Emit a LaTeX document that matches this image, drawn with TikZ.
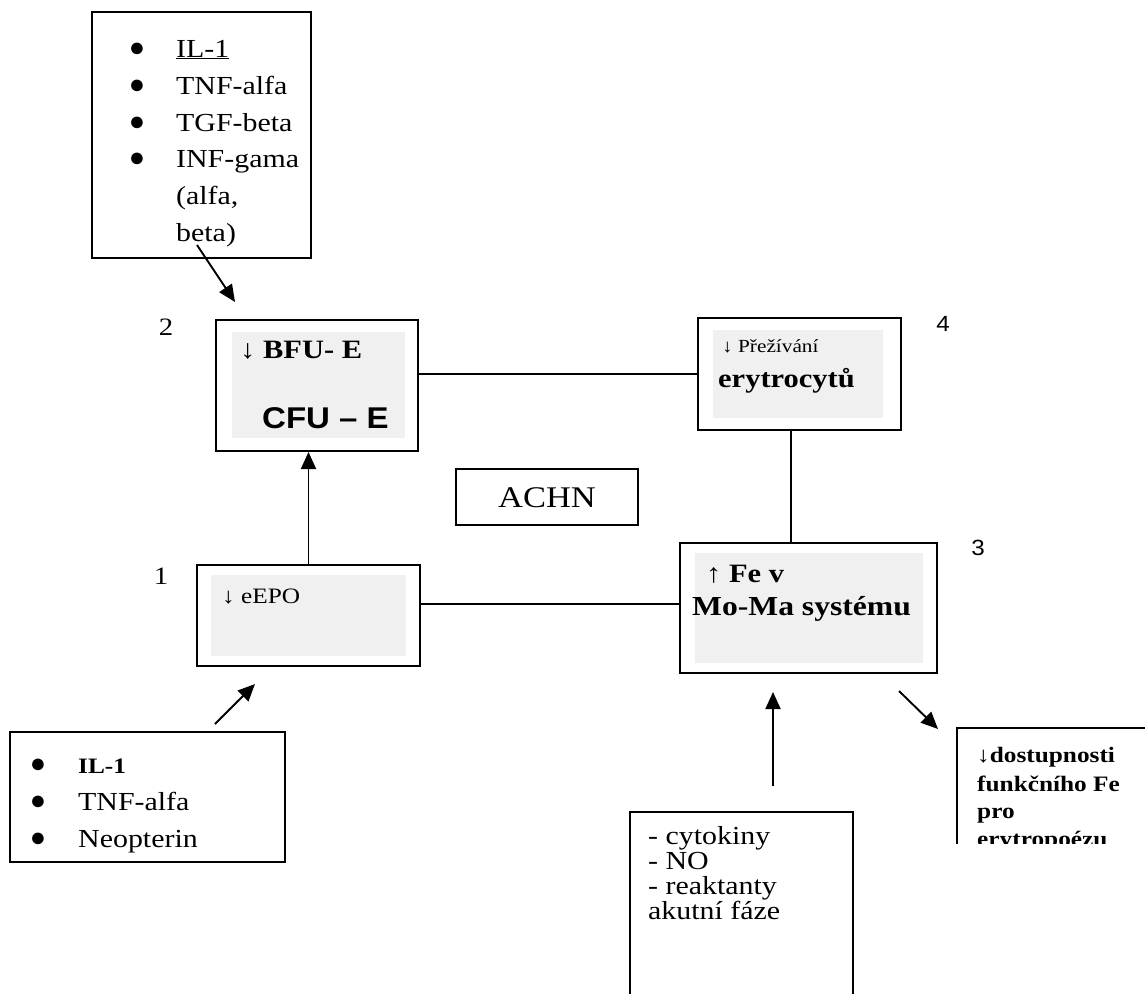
\documentclass[tikz,border=0pt]{standalone}
\usepackage{fontspec}
\setmainfont{Liberation Serif}[FakeStretch=1.15]
\newfontfamily\arialf{Liberation Sans}[FakeStretch=1.1]
\newfontfamily\bulfont{Liberation Serif}
\usetikzlibrary{arrows.meta}
\begin{document}
\begin{tikzpicture}[x=1pt,y=-1pt,
  box/.style={draw=black, line width=2pt, inner sep=0pt, fill=none},
  conn/.style={line width=1.6pt},
  arr/.style={line width=1.9pt, -{Triangle[length=17pt,width=15pt]}},
  halftone/.style={fill=black!6},
  tx/.style={anchor=base west, inner sep=0pt, font=\fontsize{26}{26}\selectfont},
  txb/.style={anchor=base west, inner sep=0pt, font=\fontsize{26.5}{26}\selectfont\bfseries},
  bul/.style={anchor=base, inner sep=0pt, font=\bulfont\fontsize{27}{27}\selectfont},
  num/.style={inner sep=0pt, font=\fontsize{25}{25}\selectfont},
  numsf/.style={inner sep=0pt, font=\arialf\fontsize{22}{22}\selectfont}]
\clip (0,0) rectangle (1145,993);
\fill[white] (0,0) rectangle (1145,993);

% halftone fills
\fill[halftone] (232,332) rectangle (405,438);
\fill[halftone] (713,330) rectangle (883,418);
\fill[halftone] (211,575) rectangle (406,656);
\fill[halftone] (695,553) rectangle (923,663);

% boxes
\node[box, minimum width=219pt, minimum height=246pt] (top) at (201.5,135) {};
\node[box, minimum width=202pt, minimum height=131pt] (bfu) at (317,385.5) {};
\node[box, minimum width=203pt, minimum height=112pt] (prez) at (799.5,374) {};
\node[box, minimum width=182pt, minimum height=56pt] (achn) at (547,497) {};
\node[box, minimum width=223pt, minimum height=101pt] (epo) at (308.5,615.5) {};
\node[box, minimum width=257pt, minimum height=130pt] (fe) at (808.5,608) {};
\node[box, minimum width=275pt, minimum height=130pt] (bl) at (147.5,797) {};
\node[box, minimum width=223pt, minimum height=200pt] (mid) at (741.5,912) {};

% top box text
\node[bul] (tb1) at (137,56) {●};
\node[bul] (tb2) at (137,93) {●};
\node[bul] (tb3) at (137,130) {●};
\node[bul] (tb4) at (137,166) {●};
\node[tx] (tt1) at (176,57) {\underline{IL-1}};
\node[tx] (tt2) at (176,94) {TNF-alfa};
\node[tx] (tt3) at (176,131) {TGF-beta};
\node[tx] (tt4) at (176,167) {INF-gama};
\node[tx] (tt5) at (176,204) {(alfa,};
\node[tx] (tt6) at (176,241) {beta)};

% BFU box
\node[txb] (bfu1) at (240,358) {{\mdseries ↓} BFU- E};
\node[anchor=base west, inner sep=0pt, font=\arialf\bfseries\fontsize{30}{30}\selectfont] (bfu2) at (262,428) {CFU – E};

% Prezivani box
\node[anchor=base west, inner sep=0pt, font=\fontsize{18.5}{18}\selectfont] (pz1) at (722,352) {↓ Přežívání};
\node[txb] (pz2) at (718,387) {erytrocytů};

% ACHN
\node[inner sep=0pt, font=\fontsize{30}{30}\selectfont] (achnt) at (547,498) {ACHN};

% eEPO
\node[anchor=base west, inner sep=0pt, font=\fontsize{22}{22}\selectfont] (epot) at (222,603) {↓ eEPO};

% Fe box
\node[txb] (fe1) at (706,582) {{\mdseries ↑} Fe v};
\node[anchor=base west, inner sep=0pt, font=\fontsize{27.5}{26}\selectfont\bfseries] (fe2) at (692,615) {Mo-Ma systému};

% bottom-left box
\node[bul] (bb1) at (38,772) {●};
\node[bul] (bb2) at (38,809) {●};
\node[bul] (bb3) at (38,846) {●};
\node[anchor=base west, inner sep=0pt, font=\fontsize{22}{22}\selectfont\bfseries] (bt1) at (78,773) {IL-1};
\node[tx] (bt2) at (78,810) {TNF-alfa};
\node[tx] (bt3) at (78,847) {Neopterin};

% middle box
\node[tx] (mt1) at (648,844) {- cytokiny};
\node[tx] (mt2) at (648,869) {- NO};
\node[tx] (mt3) at (648,894) {- reaktanty};
\node[tx] (mt4) at (648,919) {akutní fáze};

% right box (clipped)
\begin{scope}
\clip (0,0) rectangle (1145,843);
\node[box, minimum width=210pt, minimum height=160pt] (rb) at (1062,808) {};
\node[anchor=base west, inner sep=0pt, font=\fontsize{22}{22}\selectfont\bfseries] (rt1) at (977,762) {{\mdseries ↓}dostupnosti};
\node[anchor=base west, inner sep=0pt, font=\fontsize{22}{22}\selectfont\bfseries] (rt2) at (977,791) {funkčního Fe};
\node[anchor=base west, inner sep=0pt, font=\fontsize{22}{22}\selectfont\bfseries] (rt3) at (977,818) {pro};
\node[anchor=base west, inner sep=0pt, font=\fontsize{22}{22}\selectfont\bfseries] (rt4) at (977,846) {erytropoézu};
\end{scope}

% numbers
\node[num] (n1) at (161,576) {1};
\node[num] (n2) at (166,327) {2};
\node[numsf] (n3) at (978,548) {3};
\node[numsf] (n4) at (943,324) {4};

% connectors
\draw[conn] (prez.west -| bfu.east) -- (prez.west);
\draw[conn] ([xshift=-8.5pt]prez.south) -- ([xshift=-8.5pt]prez.south |- fe.north);
\draw[conn] ([yshift=11.5pt]epo.east) -- ([yshift=11.5pt]epo.east -| fe.west);
\draw[arr] (epo.north) -- (epo.north |- bfu.south);

\coordinate (a1s) at (197,245);
\coordinate (a1e) at (235,302);
\draw[arr] (a1s) -- (a1e);
\coordinate (a2s) at (215,724);
\coordinate (a2e) at (255,684);
\draw[arr] (a2s) -- (a2e);
\coordinate (a3s) at (773,786);
\coordinate (a3e) at (773,692);
\draw[arr] (a3s) -- (a3e);
\coordinate (a4s) at (899,691);
\coordinate (a4e) at (938,729);
\draw[arr] (a4s) -- (a4e);
\end{tikzpicture}
\end{document}
